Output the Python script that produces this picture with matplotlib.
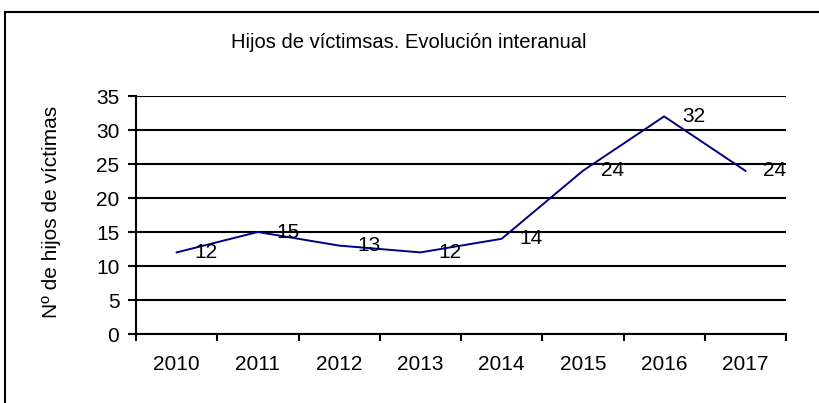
import numpy as np
import matplotlib.pyplot as plt
from matplotlib.lines import Line2D

plt.rcParams['font.family'] = ['Liberation Sans', 'DejaVu Sans']

# Datos
anios = ['2010', '2011', '2012', '2013', '2014', '2015', '2016', '2017']
hijos = [12, 15, 13, 12, 14, 24, 32, 24]

fig = plt.figure(figsize=(8.2, 4.03), dpi=100)
ax = fig.add_axes([136 / 820, 1 - 334 / 403, (786 - 136) / 820, (334 - 96) / 403])

x = np.arange(len(anios))
ax.plot(x, hijos, color='#000080', lw=1.4)

# Etiquetas de datos a la derecha de cada punto
for xi, v in zip(x, hijos):
    ax.annotate(str(v), (xi, v), xytext=(13, 0), textcoords='offset points',
                ha='left', va='center', fontsize=15)

ax.set_xlim(-0.5, len(anios) - 0.5)
ax.set_ylim(0, 35)
ax.set_yticks(range(0, 36, 5))
ax.yaxis.grid(True, color='black', lw=1.5)
ax.set_axisbelow(True)

# Marcas entre categorías, etiquetas centradas
ax.set_xticks(np.arange(-0.5, len(anios), 1))
ax.set_xticklabels([])
ax.set_xticks(x, minor=True)
ax.set_xticklabels(anios, minor=True)
ax.tick_params(axis='x', which='minor', length=0, pad=15, labelsize=15)
ax.tick_params(axis='x', which='major', length=5, width=1.5, direction='out')
ax.tick_params(axis='y', length=6, width=1.5, direction='out', labelsize=15, pad=6)

for s in ['top', 'right']:
    ax.spines[s].set_visible(False)
for s in ['left', 'bottom']:
    ax.spines[s].set_linewidth(1.5)

fig.text(52 / 820, 1 - 212 / 403, 'Nº de hijos de víctimas', rotation=90,
         ha='center', va='center', fontsize=15)

fig.text(409 / 820, 1 - 43 / 403, 'Hijos de víctimsas. Evolución interanual',
         ha='center', va='center', fontsize=14.5)

# Marco del gráfico
fig.add_artist(Line2D([5 / 820, 5 / 820], [0, 1 - 12 / 403], color='black', lw=1.5))
fig.add_artist(Line2D([5 / 820, 1], [1 - 12 / 403, 1 - 12 / 403], color='black', lw=1.5))

fig.savefig('out.png', dpi=100)
